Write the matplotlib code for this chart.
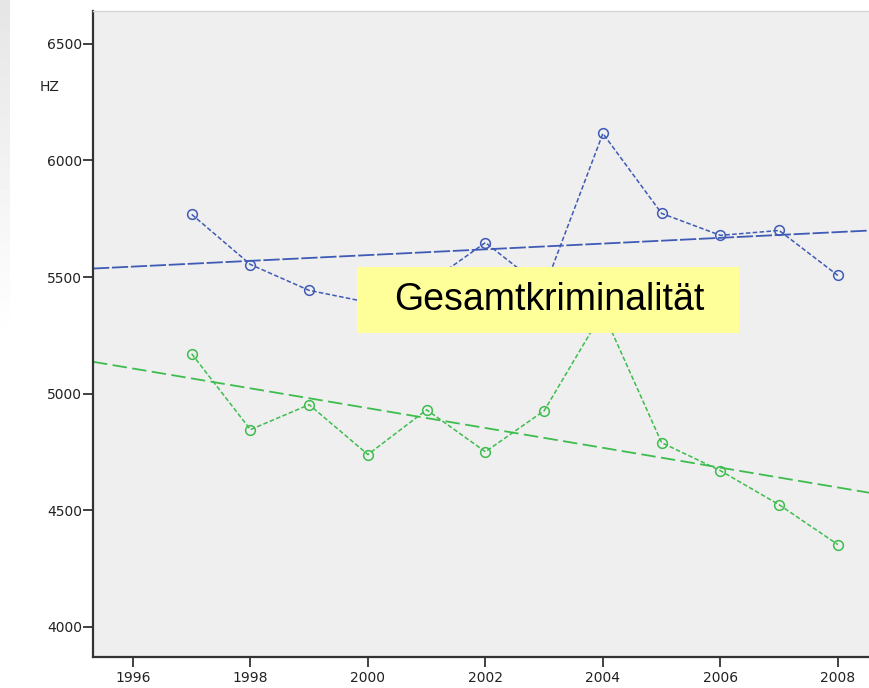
import numpy as np
import matplotlib
matplotlib.use("Agg")
import matplotlib.pyplot as plt
from matplotlib.patches import Rectangle

# Häufigkeitszahl (HZ) per year
years = [1997, 1998, 1999, 2000, 2001, 2002, 2003, 2004, 2005, 2006, 2007, 2008]
hz_blue = [5769, 5554, 5443, 5392, 5469, 5648, 5450, 6116, 5773, 5679, 5700, 5507]
hz_green = [5171, 4846, 4953, 4739, 4931, 4751, 4927, 5351, 4790, 4670, 4524, 4353]

# linear trend, value at 1996 and 2008
trend_years = [1996, 2008]
trend_blue = [5545, 5693]
trend_green = [5108, 4598]

xticks = [1996, 1998, 2000, 2002, 2004, 2006, 2008]
yticks = [4000, 4500, 5000, 5500, 6000, 6500]
box_text = "Gesamtkriminalität"

blue = "#3f5bb5"
green = "#3dbd4d"

W, H = 869, 688
fig = plt.figure(figsize=(W / 100, H / 100), dpi=100)
fig.patch.set_facecolor("white")

# faint slide background strip on the far left (fades out downwards)
strip = fig.add_axes([0, (H - 340) / H, 10 / W, 340 / H])
grad = np.linspace(0.9, 1.0, 50).reshape(-1, 1)
strip.imshow(grad, aspect="auto", cmap="gray", vmin=0, vmax=1, extent=[0, 1, 1, 0])
strip.axis("off")

ax = fig.add_axes([93 / W, (H - 657) / H, (W - 93) / W, (657 - 11) / H])
ax.set_facecolor("#efefef")

ax.set_xlim(1995.32, 2008.53)
ax.set_ylim(3871, 6641)

ax.axline((trend_years[0], trend_blue[0]), (trend_years[1], trend_blue[1]),
          color=blue, lw=1.3, ls=(0, (9, 1.5)))
ax.axline((trend_years[0], trend_green[0]), (trend_years[1], trend_green[1]),
          color=green, lw=1.3, ls=(0, (8, 3)))

ax.plot(years, hz_blue, color=blue, lw=1.1, ls=(0, (3, 1.5)),
        marker="o", ms=7, mfc="none", mec=blue, mew=1.1)
ax.plot(years, hz_green, color=green, lw=1.1, ls=(0, (3, 1.5)),
        marker="o", ms=7, mfc="none", mec=green, mew=1.1)

ax.set_xticks(xticks)
ax.set_yticks(yticks)
ax.set_xticklabels([str(x) for x in xticks])
ax.set_yticklabels([str(y) for y in yticks])
ax.tick_params(axis="both", direction="out", length=7, width=1.3, color="#333333",
               labelsize=10, labelcolor="#222222")
ax.tick_params(axis="y", pad=1)
ax.tick_params(axis="x", pad=3)

for s in ["left", "bottom"]:
    ax.spines[s].set_color("#333333")
    ax.spines[s].set_linewidth(1.6)
ax.spines["top"].set_color("#d6d6d6")
ax.spines["top"].set_linewidth(1.0)
ax.spines["right"].set_visible(False)

fig.text(50 / W, (H - 87) / H, "HZ", fontsize=10, color="#222222", ha="center", va="center")

# yellow label box
fig.patches.append(Rectangle((357 / W, (H - 333) / H), 382 / W, 66 / H, transform=fig.transFigure,
                             facecolor="#ffff99", edgecolor="none", zorder=5))
fig.text(549 / W, (H - 300) / H, box_text, fontsize=27, family="Liberation Sans",
         color="black", ha="center", va="center", zorder=6)

fig.savefig("out.png", dpi=100)
